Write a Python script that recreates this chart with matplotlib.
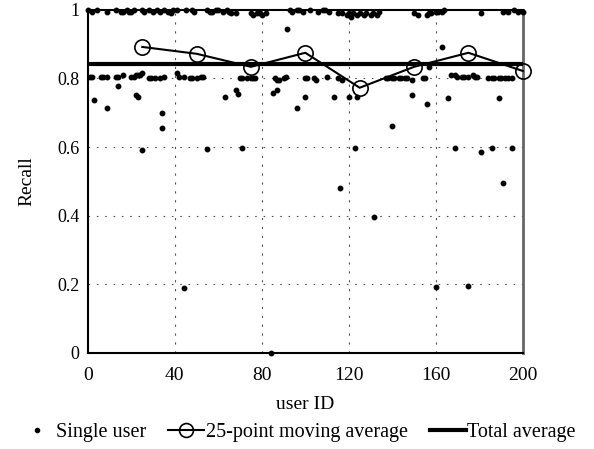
import numpy as np
import matplotlib.pyplot as plt
from matplotlib.lines import Line2D

plt.rcParams['font.family'] = ['Liberation Serif', 'DejaVu Serif']

# users near recall = 1
top_ids = [0, 2, 4, 9, 13, 15, 16, 18, 19, 20, 21, 25, 26, 28, 30, 32, 33, 35, 37, 38,
           39, 41, 45, 48, 49, 55, 56, 57, 59, 60, 62, 64, 65, 66, 68, 75, 76, 78, 79, 80,
           82, 93, 94, 96, 97, 99, 102, 106, 108, 109, 111, 115, 117, 119, 120, 121, 122, 124, 125, 127,
           128, 130, 131, 133, 134, 150, 152, 156, 157, 158, 160, 161, 163, 164, 181, 191, 193, 196, 198, 200]
top_recall = [1.0, 0.995, 1.0, 0.995, 1.0, 0.995, 0.995, 1.0, 0.995, 0.995, 1.0, 1.0, 0.995, 1.0, 0.995, 1.0, 0.995, 1.0, 0.995, 0.99,
              1.0, 1.0, 1.0, 1.0, 0.995, 1.0, 0.995, 0.995, 1.0, 1.0, 0.995, 1.0, 0.995, 0.99, 0.99, 0.99, 0.985, 0.99, 0.99, 0.985,
              0.99, 1.0, 0.995, 1.0, 1.0, 0.995, 1.0, 0.995, 1.0, 1.0, 0.995, 0.99, 0.99, 0.985, 0.99, 0.98, 0.99, 0.985, 0.99, 0.985,
              0.99, 0.985, 0.99, 0.985, 0.995, 0.99, 0.985, 0.985, 0.99, 0.99, 0.995, 0.995, 0.995, 1.0, 0.99, 0.995, 0.995, 1.0, 0.995, 0.995]

# users near recall = 0.8
mid_ids = [1, 2, 6, 7, 9, 13, 14, 16, 20, 21, 22, 23, 24, 25, 28, 29, 31, 33, 35, 41,
           42, 44, 47, 48, 50, 52, 53, 70, 71, 73, 75, 76, 77, 86, 87, 88, 90, 91, 100, 101,
           104, 105, 110, 115, 117, 137, 138, 140, 141, 143, 144, 146, 147, 149, 154, 155, 167, 169, 170, 172,
           173, 175, 177, 178, 179, 184, 186, 187, 189, 190, 192, 193, 195]
mid_recall = [0.805, 0.805, 0.805, 0.805, 0.805, 0.805, 0.805, 0.81, 0.805, 0.805, 0.81, 0.81, 0.81, 0.815, 0.80, 0.80, 0.80, 0.80, 0.805, 0.815,
              0.805, 0.805, 0.80, 0.80, 0.80, 0.805, 0.805, 0.80, 0.80, 0.80, 0.80, 0.80, 0.80, 0.80, 0.795, 0.795, 0.80, 0.805, 0.80, 0.80,
              0.80, 0.795, 0.805, 0.80, 0.795, 0.80, 0.80, 0.80, 0.80, 0.80, 0.80, 0.80, 0.80, 0.795, 0.80, 0.80, 0.81, 0.81, 0.805, 0.805,
              0.805, 0.805, 0.81, 0.805, 0.805, 0.80, 0.80, 0.80, 0.80, 0.80, 0.80, 0.80, 0.80]

# scattered users
low_ids = [3, 9, 14, 22, 23, 34, 34, 25, 55, 63, 68, 69, 71, 44, 85, 87, 84, 91.5, 96, 100,
           113, 116, 120, 123, 124, 131.5, 140, 149, 156, 157, 160, 163, 165.5, 169, 175, 181, 186, 189, 191, 195]
low_recall = [0.738, 0.714, 0.778, 0.752, 0.745, 0.70, 0.656, 0.592, 0.595, 0.746, 0.767, 0.755, 0.598, 0.19, 0.758, 0.767, 0.0, 0.944, 0.714, 0.746,
              0.746, 0.48, 0.746, 0.597, 0.746, 0.397, 0.662, 0.752, 0.726, 0.834, 0.192, 0.892, 0.743, 0.597, 0.195, 0.586, 0.597, 0.744, 0.495, 0.598]

# 25-point moving average
ma_ids = [25, 50, 75, 100, 125, 150, 175, 200]
ma_recall = [0.892, 0.872, 0.834, 0.875, 0.773, 0.834, 0.875, 0.822]

total_average = 0.842

user_ids = top_ids + mid_ids + low_ids
recall = top_recall + mid_recall + low_recall

fig = plt.figure(figsize=(5.94, 4.49), dpi=100)
ax = fig.add_axes([0.148, 0.214, 0.732, 0.764])

ax.plot(user_ids, recall, 'o', color='black', ms=3.2, clip_on=False, zorder=3)
ax.axhline(total_average, color='black', lw=3, zorder=4)
ax.plot(ma_ids, ma_recall, '-o', color='black', lw=1.5, ms=11, mfc='none', mew=1.2,
        clip_on=False, zorder=5)

ax.set_xlim(0, 200)
ax.set_ylim(0, 1)
ax.set_xticks([0, 40, 80, 120, 160, 200])
ax.set_yticks([0, 0.2, 0.4, 0.6, 0.8, 1])
ax.set_yticklabels(['0', '0.2', '0.4', '0.6', '0.8', '1'])
ax.tick_params(axis='x', length=0, labelsize=14, pad=10)
ax.tick_params(axis='y', length=0, labelsize=13, pad=6)

for v in [40, 80, 120, 160]:
    ax.axvline(v, color='#555555', lw=0.8, ls=(0, (2, 6)), zorder=1)
for v in [0.2, 0.4, 0.6, 0.8]:
    ax.axhline(v, color='#555555', lw=0.8, ls=(0, (1.5, 6)), zorder=1)

for s in ['left', 'bottom', 'top']:
    ax.spines[s].set_linewidth(1.5)
ax.spines['right'].set_color('#666666')
ax.spines['right'].set_linewidth(2)

ax.set_xlabel('user ID', fontsize=14, labelpad=9)
ax.set_ylabel('Recall', fontsize=14, labelpad=16)

handles = [
    Line2D([], [], ls='none', marker='o', color='black', ms=3),
    Line2D([], [], color='black', lw=1.5, marker='o', ms=10, mfc='none', mew=1.2),
    Line2D([], [], color='black', lw=3),
]
fig.legend(handles, ['Single user', '25-point moving average', 'Total average'],
           loc='lower center', bbox_to_anchor=(0.5, -0.025), ncol=3, frameon=False,
           fontsize=14.5, handlelength=1.8, handletextpad=0.05, columnspacing=1.1)

fig.savefig('out.png', dpi=100)
